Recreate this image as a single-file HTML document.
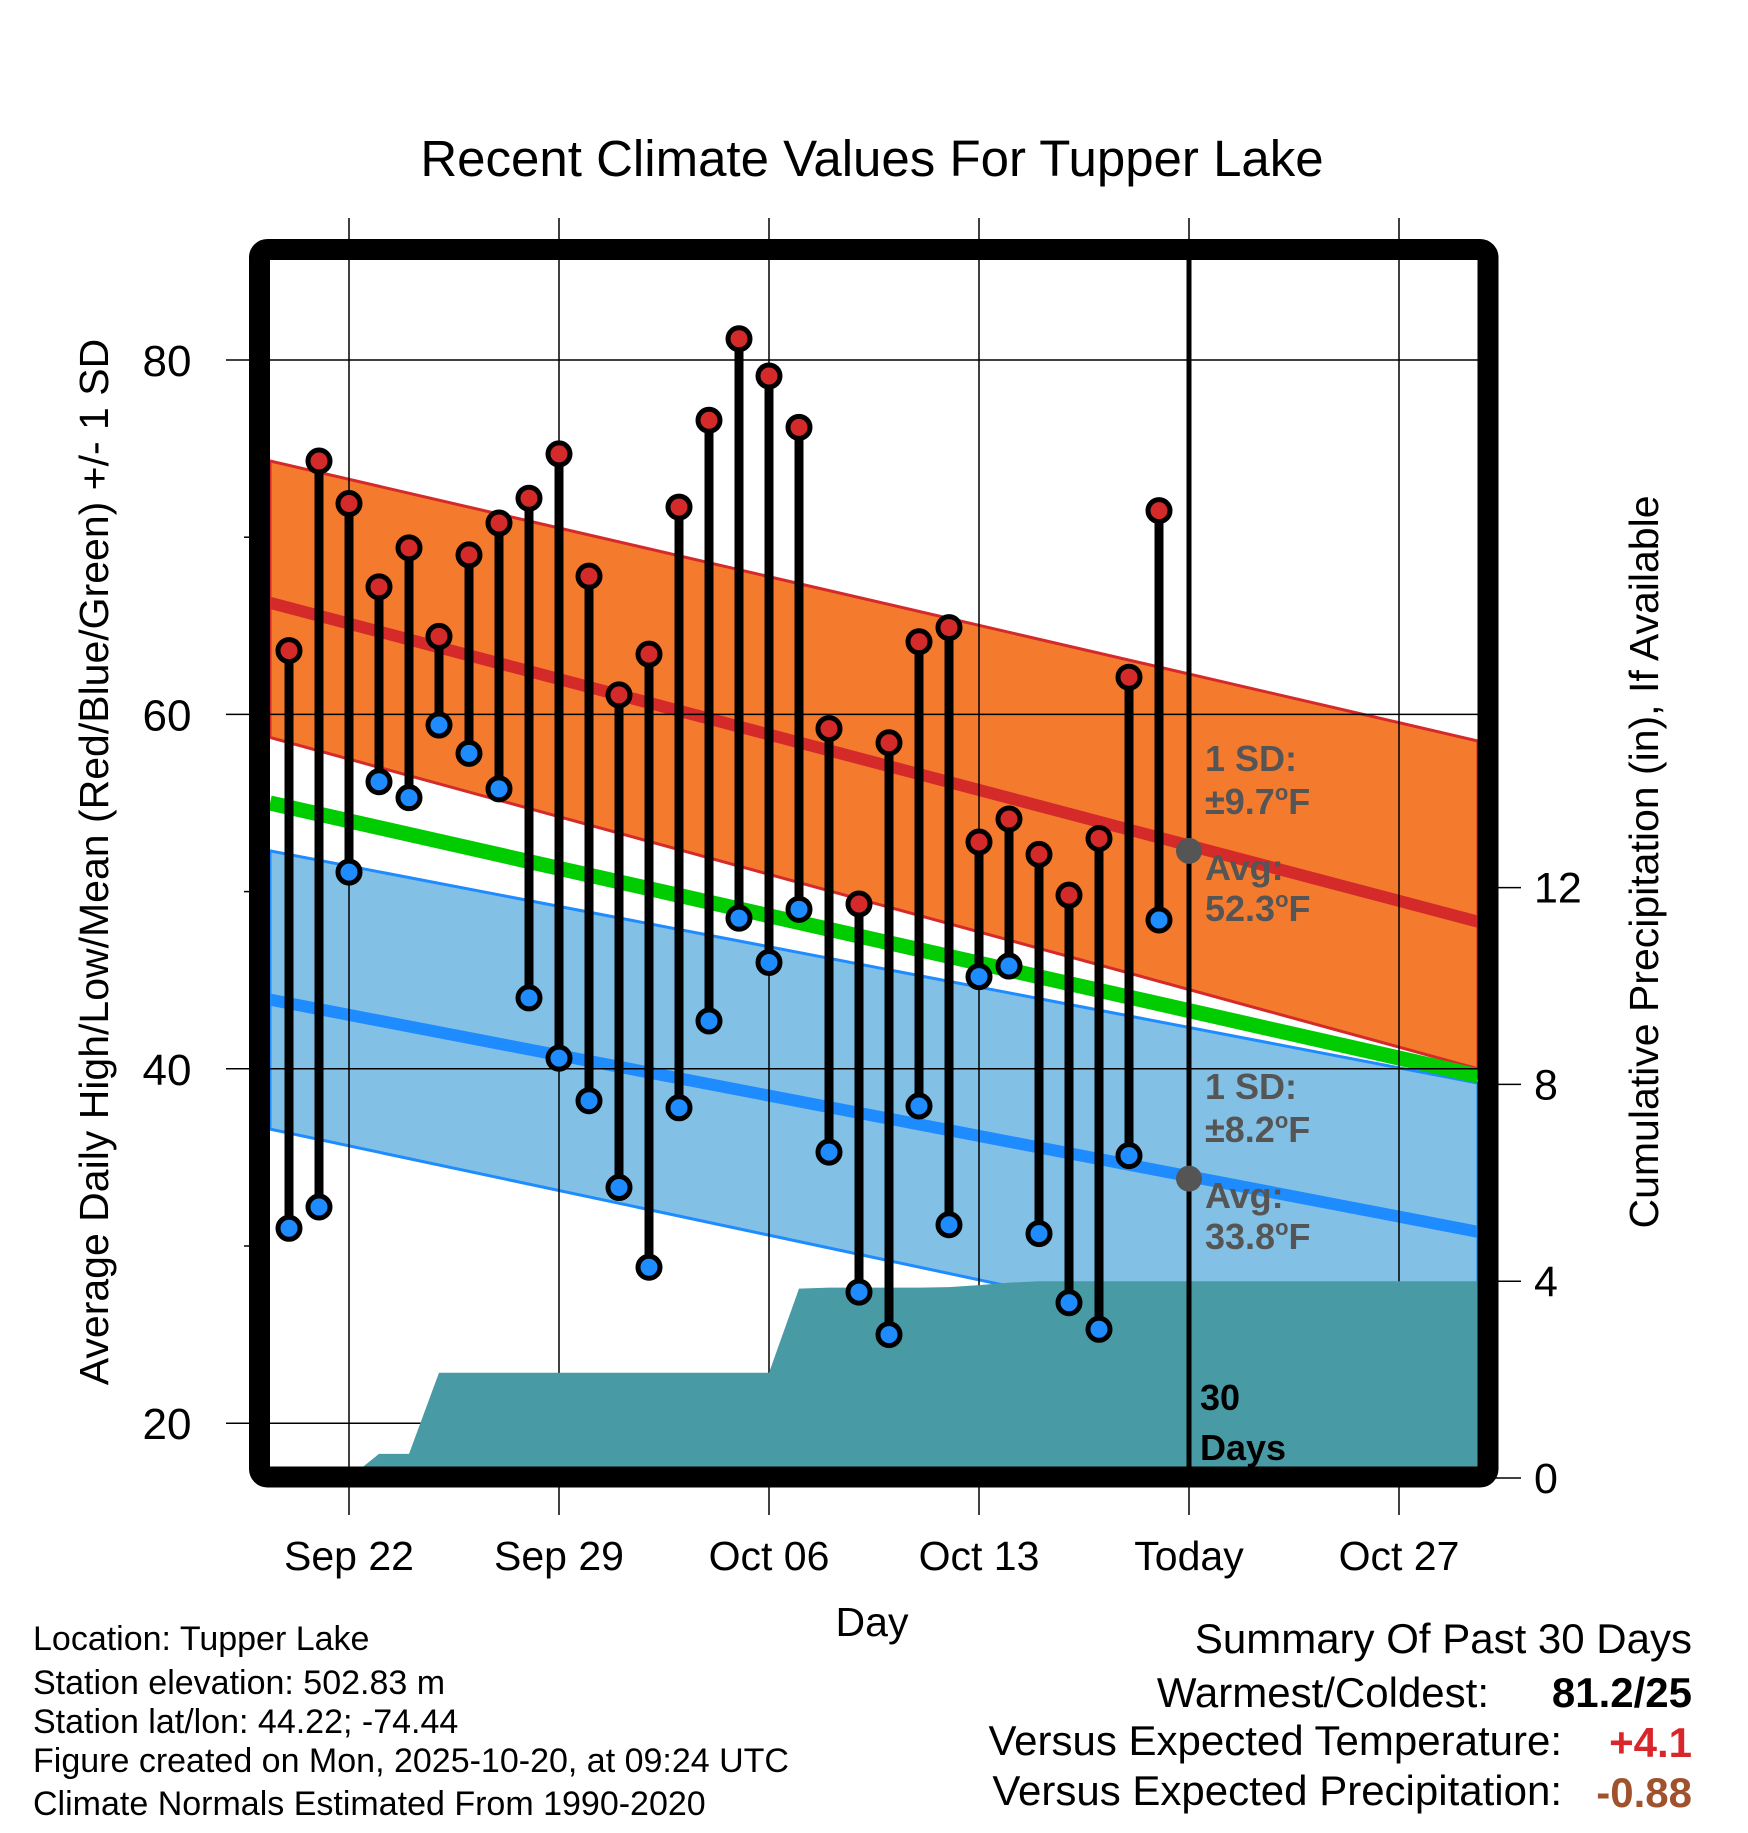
<!DOCTYPE html>
<html><head><meta charset="utf-8"><style>
body{margin:0;background:#fff}
svg text{font-family:"Liberation Sans",sans-serif}
</style></head><body>
<svg id="chart" width="1748" height="1828" viewBox="0 0 1748 1828" xmlns="http://www.w3.org/2000/svg">
<defs><clipPath id="plotclip"><rect x="270" y="260" width="1208" height="1207"/></clipPath></defs>
<text x="872" y="176" font-size="51" text-anchor="middle">Recent Climate Values For Tupper Lake</text>
<g id="bands" clip-path="url(#plotclip)"></g>
<g id="grid"></g>
<g id="precip" clip-path="url(#plotclip)"></g>
<g id="marks"></g>
<rect x="259.5" y="249.5" width="1228.5" height="1227.5" rx="8" fill="none" stroke="#000" stroke-width="21"/>
<g id="labels"></g>
<text transform="translate(108,862) rotate(-90)" font-size="41" text-anchor="middle">Average Daily High/Low/Mean (Red/Blue/Green) +/- 1 SD</text>
<text transform="translate(1658,862) rotate(-90)" font-size="41" text-anchor="middle">Cumulative Precipitation (in), If Available</text>
<text x="872" y="1636" font-size="41" text-anchor="middle">Day</text>
<g font-size="34">
<text x="33" y="1650">Location: Tupper Lake</text>
<text x="33" y="1694">Station elevation: 502.83 m</text>
<text x="33" y="1733">Station lat/lon: 44.22; -74.44</text>
<text x="33" y="1772">Figure created on Mon, 2025-10-20, at 09:24 UTC</text>
<text x="33" y="1815">Climate Normals Estimated From 1990-2020</text>
</g>
<g font-size="42">
<text x="1692" y="1653" text-anchor="end">Summary Of Past 30 Days</text>
<text x="1489" y="1707" text-anchor="end">Warmest/Coldest:</text>
<text x="1692" y="1707" text-anchor="end" font-weight="bold">81.2/25</text>
<text x="1562" y="1755" text-anchor="end">Versus Expected Temperature:</text>
<text x="1692" y="1757" text-anchor="end" font-weight="bold" fill="#d8262b">+4.1</text>
<text x="1562" y="1805" text-anchor="end">Versus Expected Precipitation:</text>
<text x="1692" y="1807" text-anchor="end" font-weight="bold" fill="#a0522d">-0.88</text>
</g>
</svg>
<script>
const highs=[63.6,74.3,71.9,67.2,69.4,64.4,69.0,70.8,72.2,74.7,67.8,61.1,63.4,71.7,76.6,81.2,79.1,76.2,59.2,49.3,58.4,64.1,64.9,52.8,54.1,52.1,49.8,53.0,62.1,71.5];
const lows=[31.0,32.2,51.1,56.2,55.3,59.4,57.8,55.8,44.0,40.6,38.2,33.3,28.8,37.8,42.7,48.5,46.0,49.0,35.3,27.4,25.0,37.9,31.2,45.2,45.8,30.7,26.8,25.3,35.1,48.4];
const precip=[0,0,0,0.49,0.49,2.14,2.14,2.14,2.14,2.14,2.14,2.14,2.14,2.14,2.14,2.14,2.14,3.85,3.87,3.87,3.87,3.87,3.88,3.92,3.97,4.0,4.0,4.0,4.0,4.0];
const normHighStart=[74.3,66.3,58.7];
const normHighEnd=[58.5,48.3,40.0];
const normLowStart=[52.3,43.9,36.6];
const normLowEnd=[39.2,30.8,22.1];
const normMean=[55.0,39.6];
const yTicks=[20,40,60,80];
const yMinor=[30,50,70];
const y2Ticks=[0,4,8,12];
const xTickDays=[2,9,16,23,30,37];
const xTickLabels=["Sep 22","Sep 29","Oct 06","Oct 13","Today","Oct 27"];
const avgHighToday=52.3, avgLowToday=33.8;

const NS="http://www.w3.org/2000/svg";
const X=d=>289+d*30;
const Y=v=>360+(80-v)*17.72;
const P=p=>1478-p*49.2;
const XL=270, XR=1478;
function mk(tag,attrs,parent){const e=document.createElementNS(NS,tag);for(const k in attrs)e.setAttribute(k,attrs[k]);parent.appendChild(e);return e;}
const bands=document.getElementById('bands'),grid=document.getElementById('grid'),pg=document.getElementById('precip'),marks=document.getElementById('marks'),labels=document.getElementById('labels');

let e=mk('polygon',{points:`${XL},${Y(normHighStart[0])} ${XR},${Y(normHighEnd[0])} ${XR},${Y(normHighEnd[2])} ${XL},${Y(normHighStart[2])}`,fill:'#f47a2e',stroke:'#d42a2a','stroke-width':3},bands);

e=mk('polygon',{points:`${XL},${Y(normLowStart[0])} ${XR},${Y(normLowEnd[0])} ${XR},${Y(normLowEnd[2])} ${XL},${Y(normLowStart[2])}`,fill:'#82c0e6',stroke:'#1e8cff','stroke-width':3},bands);

e=mk('line',{x1:XL,y1:Y(normMean[0]),x2:XR,y2:Y(normMean[1]),stroke:'#00cc00','stroke-width':15},bands);

e=mk('line',{x1:XL,y1:Y(normHighStart[1]),x2:XR,y2:Y(normHighEnd[1]),stroke:'#d42a2a','stroke-width':12},bands);

e=mk('line',{x1:XL,y1:Y(normLowStart[1]),x2:XR,y2:Y(normLowEnd[1]),stroke:'#1e8cff','stroke-width':12},bands);


yTicks.forEach(v=>{
  let l=mk('line',{x1:226,x2:XR,y1:Y(v),y2:Y(v),stroke:'#000','stroke-width':1.5},grid);
  
  let t=mk('text',{x:167,y:Y(v)+16,'font-size':44,'text-anchor':'middle'},labels);t.textContent=v;
  
});
yMinor.forEach(v=>{
  let l=mk('line',{x1:244,x2:260,y1:Y(v),y2:Y(v),stroke:'#000','stroke-width':1.5},grid);
  
});
xTickDays.forEach((d,i)=>{
  let l=mk('line',{x1:X(d),x2:X(d),y1:218,y2:1515,stroke:'#000','stroke-width':1.5},grid);
  
  let t=mk('text',{x:X(d),y:1570,'font-size':41,'text-anchor':'middle'},labels);t.textContent=xTickLabels[i];
  
});
y2Ticks.forEach(p=>{
  let l=mk('line',{x1:1488,x2:1521,y1:P(p),y2:P(p),stroke:'#000','stroke-width':1.5},labels);
  
  let t=mk('text',{x:1534,y:P(p)+15,'font-size':43},labels);t.textContent=p;
  
});

let pts=`${XL},${P(0)} `;
precip.forEach((p,i)=>{pts+=`${X(i)},${P(p)} `;});
pts+=`${XR},${P(precip[precip.length-1])} ${XR},${P(0)}`;
e=mk('polygon',{points:pts,fill:'#489ba4'},pg);


e=mk('line',{x1:X(30),x2:X(30),y1:260,y2:1467,stroke:'#000','stroke-width':5},marks);


highs.forEach((h,i)=>{
  let l=mk('line',{x1:X(i),x2:X(i),y1:Y(h),y2:Y(lows[i]),stroke:'#000','stroke-width':9},marks);
  
});
highs.forEach((h,i)=>{
  let c=mk('circle',{cx:X(i),cy:Y(h),r:11,fill:'#d42a2a',stroke:'#000','stroke-width':5},marks);
  
  let c2=mk('circle',{cx:X(i),cy:Y(lows[i]),r:11,fill:'#1e8cff',stroke:'#000','stroke-width':5},marks);
  
});
[avgHighToday,avgLowToday].forEach(v=>{
  let c=mk('circle',{cx:X(30),cy:Y(v),r:13,fill:'#555'},marks);
  
});
function lbl(txt,x,y,name,col,sz){let t=mk('text',{x:x,y:y,'font-size':sz||36,'font-weight':'bold',fill:col},marks);t.innerHTML=txt;return t;}
lbl('1 SD:',1205,771,'high-sd-label','#555');
lbl('±9.7<tspan font-size="22" dy="-14">o</tspan><tspan dy="14">F</tspan>',1205,814,'high-sd-value','#555');
lbl('Avg:',1205,880,'high-avg-label','#555');
lbl('52.3<tspan font-size="22" dy="-14">o</tspan><tspan dy="14">F</tspan>',1205,921,'high-avg-value','#555');
lbl('1 SD:',1205,1099,'low-sd-label','#555');
lbl('±8.2<tspan font-size="22" dy="-14">o</tspan><tspan dy="14">F</tspan>',1205,1142,'low-sd-value','#555');
lbl('Avg:',1205,1208,'low-avg-label','#555');
lbl('33.8<tspan font-size="22" dy="-14">o</tspan><tspan dy="14">F</tspan>',1205,1249,'low-avg-value','#555');
lbl('30',1200,1410,'days-label-num','#000');
lbl('Days',1200,1460,'days-label','#000');
</script>
</body></html>
